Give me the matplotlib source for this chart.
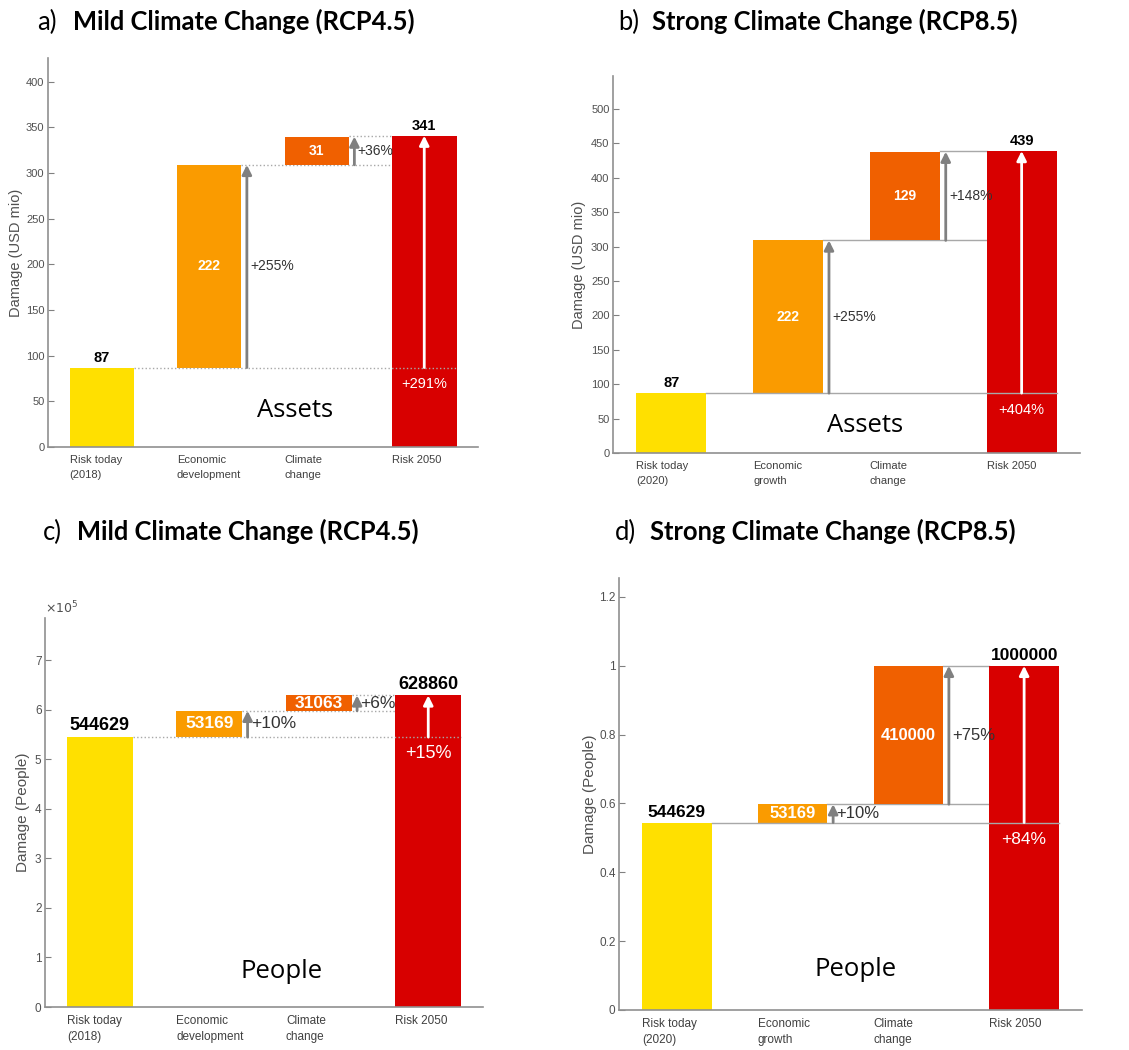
import numpy as np
import matplotlib.pyplot as plt
from matplotlib.ticker import FuncFormatter

plt.rcParams['font.family'] = ['Liberation Sans', 'DejaVu Sans']

# ---- data ----
labels_2018 = ['Risk today\n(2018)', 'Economic\ndevelopment', 'Climate\nchange', 'Risk 2050']
labels_2020 = ['Risk today\n(2020)', 'Economic\ngrowth', 'Climate\nchange', 'Risk 2050']

assets_rcp45 = [87, 222, 31, 341]
assets_rcp45_pct = ['+255%', '+36%', '+291%']
assets_rcp85 = [87, 222, 129, 439]
assets_rcp85_pct = ['+255%', '+148%', '+404%']

people_rcp45 = [544629, 53169, 31063, 628860]
people_rcp45_pct = ['+10%', '+6%', '+15%']
people_rcp85 = [544629, 53169, 410000, 1000000]
people_rcp85_pct = ['+10%', '+75%', '+84%']

colors = ['#FFE000', '#FA9B00', '#F06000', '#D80000']
W, H = 1129, 1050


def waterfall(box, vals, pct, xlabels, scale, ylim, yticks, ylabel, ylab_x,
              fs, tick_fs, ls, word, word_pos, word_fs, lsp=1.6):
    l, t, r, b = box
    ax = fig.add_axes([l / W, 1 - b / H, (r - l) / W, (b - t) / H])
    v = np.array(vals, dtype=float) / scale
    x = np.arange(1, 5)
    w = 0.6
    base, total = v[0], v[3]
    bottoms = [0, base, base + v[1], 0]
    heights = [base, v[1], min(v[2], total - (base + v[1])), total]
    ax.bar(x, heights, bottom=bottoms, width=w, color=colors, zorder=2)

    lc = '#a8a8a8'
    # connector lines
    ax.plot([x[0] + w / 2, x[3] + w / 2], [base, base], ls=ls, color=lc, lw=1, zorder=3)
    ax.plot([x[1] + w / 2, x[3] - w / 2], [base + v[1]] * 2, ls=ls, color=lc, lw=1, zorder=1)
    ax.plot([x[2] + w / 2, x[3] - w / 2], [total] * 2, ls=ls, color=lc, lw=1, zorder=1)

    # increment arrows and labels
    for i in (1, 2):
        y0, y1 = bottoms[i], bottoms[i] + heights[i]
        xa = x[i] + w / 2 + 0.05
        ax.annotate('', xy=(xa, y1), xytext=(xa, y0),
                    arrowprops=dict(arrowstyle='-|>', color='#808080', lw=2,
                                    mutation_scale=14, shrinkA=0, shrinkB=0), zorder=4)
        ax.text(xa + 0.03, (y0 + y1) / 2, pct[i - 1], fontsize=fs, color='#333333',
                ha='left', va='center', zorder=5)
        ax.text(x[i], (y0 + y1) / 2, f'{vals[i]}', fontsize=fs, color='white',
                fontweight='bold', ha='center', va='center', zorder=5)

    # total arrow
    ax.annotate('', xy=(x[3], total), xytext=(x[3], base),
                arrowprops=dict(arrowstyle='-|>', color='white', lw=2,
                                mutation_scale=14, shrinkA=0, shrinkB=0), zorder=4)
    ax.annotate(pct[2], (x[3], base), xytext=(0, -12), textcoords='offset points',
                fontsize=fs + 0.5, color='white', ha='center', va='center', zorder=5)

    ax.annotate(f'{vals[0]}', (x[0], base), xytext=(0, 2), textcoords='offset points',
                fontsize=fs + 0.5, fontweight='bold', ha='center', va='bottom')
    ax.annotate(f'{vals[3]}', (x[3], total), xytext=(0, 2), textcoords='offset points',
                fontsize=fs + 0.5, fontweight='bold', ha='center', va='bottom')

    ax.text(word_pos[0], word_pos[1], word, transform=ax.transAxes, fontsize=word_fs,
            family=['Open Sans', 'DejaVu Sans'], ha='center', va='center')

    ax.set_xlim(0.5, 4.5)
    ax.set_ylim(*ylim)
    ax.set_xticks(x - w / 2)
    ax.set_xticklabels(xlabels, ha='left', fontsize=tick_fs, color='#404040',
                       linespacing=lsp)
    ax.tick_params(axis='x', length=0, pad=6)
    ax.set_yticks(yticks)
    ax.yaxis.set_major_formatter(FuncFormatter(lambda val, p: f'{val:g}'))
    ax.tick_params(axis='y', direction='in', length=4, color='#808080', pad=2.5,
                   labelsize=tick_fs, labelcolor='#505050')
    for s in ('top', 'right'):
        ax.spines[s].set_visible(False)
    for s in ('left', 'bottom'):
        ax.spines[s].set_color('#909090')
        ax.spines[s].set_linewidth(1.2)
    ax.set_ylabel(ylabel, fontsize=tick_fs + 2.5, color='#505050')
    ax.yaxis.set_label_coords(ylab_x, 0.5)
    return ax


fig = plt.figure(figsize=(W / 100, H / 100), dpi=100)

waterfall((48, 58, 478, 447), assets_rcp45, assets_rcp45_pct, labels_2018, 1,
          (0, 426), np.arange(0, 401, 50), 'Damage (USD mio)', -0.058,
          10, 8, ':', 'Assets', (0.574, 0.093), 18.5)
waterfall((613, 76, 1080, 453), assets_rcp85, assets_rcp85_pct, labels_2020, 1,
          (0, 548), np.arange(0, 501, 50), 'Damage (USD mio)', -0.058,
          10, 8, '-', 'Assets', (0.54, 0.074), 18.5)
axc = waterfall((45, 618, 483, 1007), people_rcp45, people_rcp45_pct, labels_2018, 1e5,
                (0, 7.85), np.arange(0, 8), 'Damage (People)', -0.034,
                12.5, 8.5, ':', 'People', (0.54, 0.09), 18.5, lsp=1.4)
axc.text(0.0, 1.005, r'$\times10^5$', transform=axc.transAxes, fontsize=9,
         color='#505050', ha='left', va='bottom')
waterfall((619, 578, 1082, 1010), people_rcp85, people_rcp85_pct, labels_2020, 1e6,
          (0, 1.255), np.arange(0, 1.21, 0.2), 'Damage (People)', -0.048,
          12, 8.5, '-', 'People', (0.51, 0.093), 18.5, lsp=1.4)

# panel titles
tfam = ['Lato', 'DejaVu Sans']
for xl, xt, yt, letter, title in [(37, 73, 30, 'a)', 'Mild Climate Change (RCP4.5)'),
                                  (618, 652, 30, 'b)', 'Strong Climate Change (RCP8.5)'),
                                  (43, 77, 540, 'c)', 'Mild Climate Change (RCP4.5)'),
                                  (615, 650, 540, 'd)', 'Strong Climate Change (RCP8.5)')]:
    fig.text(xl / W, 1 - yt / H, letter, fontsize=18.4, family=tfam, va='baseline', ha='left')
    fig.text(xt / W, 1 - yt / H, title, fontsize=18.4, family=tfam, fontweight='bold',
             va='baseline', ha='left')

fig.savefig('out.png', dpi=100)
